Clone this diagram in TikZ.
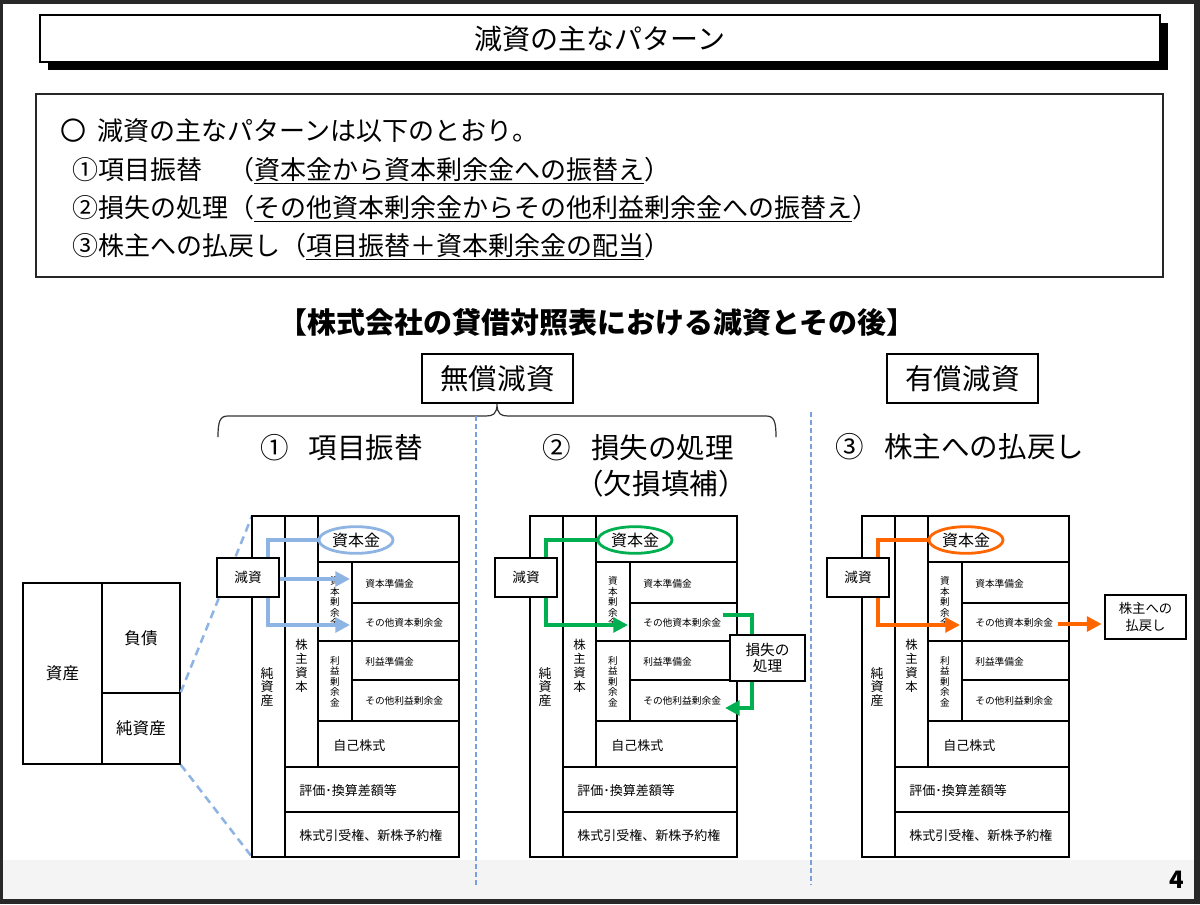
\documentclass[tikz,border=0pt]{standalone}
\usepackage{fontspec}
\setmainfont{Noto Sans CJK JP}
\usetikzlibrary{arrows.meta,shapes.geometric,calc}
\definecolor{bsblue}{RGB}{141,180,226}
\definecolor{bsgreen}{RGB}{0,176,80}
\definecolor{bsorange}{RGB}{255,102,0}
\definecolor{seplc}{RGB}{120,160,220}
\definecolor{framec}{RGB}{40,40,40}
\definecolor{bandc}{RGB}{244,244,244}
\newcommand\fsz[2]{\fontsize{#1}{#2}\selectfont}
\tikzset{
 tbl/.style={line width=1.1pt, draw=black},
 cell/.style={draw=black, line width=1.1pt, inner sep=0pt, font=\fsz{12.4}{14}},
 vtA/.style={align=center, inner sep=0pt, font=\fsz{9.75}{10.1}},
 vtB/.style={align=center, inner sep=0pt, font=\fsz{9.3}{10.5}},
 vtC/.style={align=center, inner sep=0pt, font=\fsz{7.2}{7.9}},
 smtxt/.style={anchor=west, inner sep=0pt, font=\fsz{7.3}{9}},
 mdtxt/.style={anchor=west, inner sep=0pt, font=\fsz{9.75}{12}},
 capell/.style={ellipse, draw=#1, line width=2.1pt, minimum width=55.5pt, minimum height=20pt, inner sep=0pt, font=\fsz{12}{14}},
 genbox/.style={draw=black, fill=white, line width=1.1pt, minimum width=46.5pt, minimum height=29.25pt, inner sep=0pt, font=\fsz{10.2}{12}},
 flow/.style={draw=#1, line width=3pt},
 flowar/.style={draw=#1, line width=3pt, -{Triangle[length=11pt,width=11pt]}},
 sidebox/.style={draw=black, fill=white, line width=1.1pt, align=center, inner sep=0pt},
 labbox/.style={draw=black, fill=white, line width=0.9pt, minimum width=113.25pt, minimum height=36.75pt, inner sep=0pt, font=\fsz{21.4}{24}},
 sechd/.style={inner sep=0pt, font=\fsz{21.4}{24}},
 bodyl/.style={anchor=base west, inner sep=0pt, font=\fsz{19.5}{24}},
 bldash/.style={draw=bsblue, line width=1.9pt, dash pattern=on 6pt off 4pt},
 sepline/.style={draw=seplc, line width=1pt, dash pattern=on 3.5pt off 2.5pt},
}
\newcommand\bspanel[1]{%
 \draw[tbl] (0,516) rectangle (207,857);
 \draw[tbl] (33,516) -- (33,857);
 \draw[tbl] (66,516) -- (66,767);
 \draw[tbl] (33,767) -- (207,767);
 \draw[tbl] (33,812) -- (207,812);
 \draw[tbl] (66,562) -- (207,562);
 \draw[tbl] (100,562) -- (100,721);
 \draw[tbl] (100,603) -- (207,603);
 \draw[tbl] (66,641) -- (207,641);
 \draw[tbl] (100,680) -- (207,680);
 \draw[tbl] (66,721) -- (207,721);
 \node[vtA] (#1-jun) at (15,687) {純\\資\\産};
 \node[vtB] (#1-kab) at (49.5,666) {株\\主\\資\\本};
 \node[vtC] (#1-csv) at (83,602) {資\\本\\剰\\余\\金};
 \node[vtC] (#1-rsv) at (83,681.5) {利\\益\\剰\\余\\金};
 \node[smtxt] (#1-crs) at (113,584) {資本準備金};
 \node[smtxt] (#1-osc) at (113,623) {その他資本剰余金};
 \node[smtxt] (#1-rrs) at (113,662) {利益準備金};
 \node[smtxt] (#1-ore) at (113,701) {その他利益剰余金};
 \node[mdtxt] (#1-jik) at (81,746) {自己株式};
 \node[mdtxt] (#1-hyo) at (47,791) {評価･換算差額等};
 \node[mdtxt] (#1-sin) at (47,836) {株式引受権、新株予約権};
 \coordinate (#1-vx) at (16,0);
 \coordinate (#1-tip) at (98,625);
}
\begin{document}
\begin{tikzpicture}[x=0.75pt,y=-0.75pt]
\useasboundingbox (0,0) rectangle (1200,904);
\fill[framec] (0,0) rectangle (1200,904);
\fill[white] (3,4) rectangle (1194,899);
\fill[bandc] (3,860) rectangle (1194,899);

% title
\fill[black] (48,23) rectangle (1168,70);
\node[draw=black, fill=white, line width=1.1pt, minimum width=840pt, minimum height=35.25pt, inner sep=0pt, font=\fsz{21}{24}] (title) at (600,38.5) {減資の主なパターン};

% summary box
\node[draw=black!85, line width=1.1pt, minimum width=845.25pt, minimum height=137.25pt, inner sep=0pt] (sumbox) at (599.5,185.5) {};
\node[bodyl] (l1) at (60,140) {〇\hspace{0.45em}減資の主なパターンは以下のとおり。};
\node[bodyl] (l2) at (72,179) {①項目振替　（\underline{資本金から資本剰余金への振替え}）};
\node[bodyl] (l3) at (72,217) {②損失の処理（\underline{その他資本剰余金からその他利益剰余金への振替え}）};
\node[bodyl] (l4) at (72,255.5) {③株主への払戻し（\underline{項目振替＋資本剰余金の配当}）};

% heading
\node[inner sep=0pt, font=\fsz{21.75}{26}\bfseries] (hd) at (597,322) {【株式会社の貸借対照表における減資とその後】};

\node[labbox] (musho) at (497.5,378.5) {無償減資};
\node[labbox] (yusho) at (962.5,378.5) {有償減資};

% brace
\draw[line width=0.9pt, black!80] (218,437) .. controls (218,421) and (220,416) .. (228,416) -- (486,416) .. controls (493,416) and (497,414) .. (497,404) .. controls (497,414) and (501,416) .. (508,416) -- (766,416) .. controls (774,416) and (776,421) .. (776,437);

% separators
\draw[sepline] (476,416) -- (476,885);
\draw[sepline] (811,412) -- (811,885);

% section headings
\node[sechd] (s1) at (341.5,448) {①\hspace{0.7em}項目振替};
\node[sechd] (s2) at (638.5,448) {②\hspace{0.7em}損失の処理};
\node[sechd] (s2b) at (661,484) {（欠損填補）};
\node[sechd] (s3) at (960,447) {③\hspace{0.7em}株主への払戻し};

% left balance sheet
\node[cell, minimum width=59.25pt, minimum height=135.75pt] (asset) at (62.5,673.5) {資産};
\node[cell, minimum width=58.5pt, minimum height=82.5pt] (liab) at (141,638) {負債};
\node[cell, minimum width=58.5pt, minimum height=53.25pt] (neta) at (141,728.5) {純資産};
\coordinate (p1-tl) at (252,516);
\coordinate (p1-bl) at (252,857);
\draw[bldash] (neta.north east) -- (p1-tl);
\draw[bldash] (neta.south east) -- (p1-bl);

% panel 1
\begin{scope}[shift={(252,0)}]
 \bspanel{p1}
 \node[capell=bsblue] (p1-cap) at (104,540) {資本金};
 \node[genbox] (p1-gen) at (-4,577.5) {減資};
 \coordinate (p1-tipm) at (98,579);
 \draw[flow=bsblue] (p1-gen.north -| p1-vx) |- (p1-cap.west);
 \draw[flowar=bsblue] (p1-gen.south -| p1-vx) |- (p1-tip);
 \draw[flowar=bsblue] (p1-gen.east |- p1-tipm) -- (p1-tipm);
\end{scope}

% panel 2
\begin{scope}[shift={(530,0)}]
 \bspanel{p2}
 \node[capell=bsgreen] (p2-cap) at (105,540) {資本金};
 \node[genbox] (p2-gen) at (-4,577.5) {減資};
 \draw[flow=bsgreen] (p2-gen.north -| p2-vx) |- (p2-cap.west);
 \draw[flowar=bsgreen] (p2-gen.south -| p2-vx) |- (p2-tip);
 \coordinate (p2-la) at (193,615);
 \coordinate (p2-lx) at (222,660);
 \coordinate (p2-lb) at (195,708);
 \draw[flowar=bsgreen] (p2-la) -| (p2-lx) |- (p2-lb);
 \node[sidebox, minimum width=56.25pt, minimum height=34.5pt, font=\fsz{11}{12.5}] (p2-loss) at (237.5,658) {損失の\\処理};
\end{scope}

% panel 3
\begin{scope}[shift={(862,0)}]
 \bspanel{p3}
 \node[capell=bsorange] (p3-cap) at (104,540) {資本金};
 \node[genbox] (p3-gen) at (-4,577.5) {減資};
 \draw[flow=bsorange] (p3-gen.north -| p3-vx) |- (p3-cap.west);
 \draw[flowar=bsorange] (p3-gen.south -| p3-vx) |- (p3-tip);
 \node[sidebox, minimum width=60.75pt, minimum height=33pt, font=\fsz{10}{12.5}] (p3-ret) at (283.5,617) {株主への\\払戻し};
 \coordinate (p3-oa) at (196,624);
 \draw[flowar=bsorange, shorten >=2pt] (p3-oa) -- (p3-ret.west |- p3-oa);
\end{scope}

% page number
\node[inner sep=0pt, font=\fsz{18}{20}\bfseries] (pgno) at (1177,880) {4};
\end{tikzpicture}
\end{document}
